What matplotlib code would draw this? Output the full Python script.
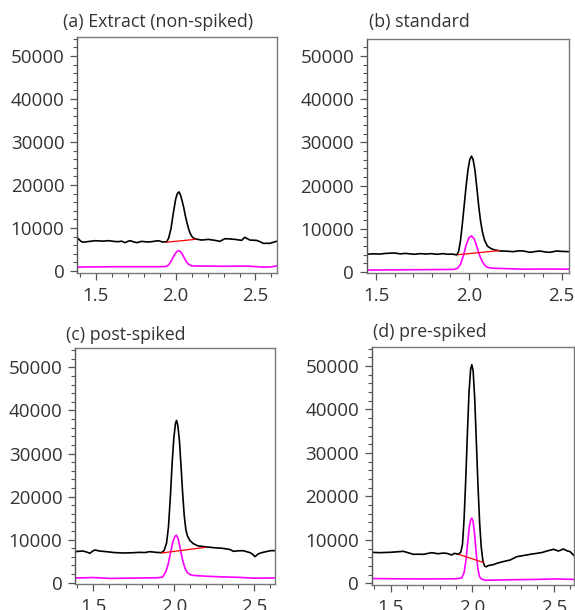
import matplotlib
matplotlib.use("Agg")
import matplotlib.pyplot as plt
from matplotlib.ticker import MultipleLocator

plt.rcParams['font.family'] = ['Open Sans', 'DejaVu Sans']

# ---------------- data (retention time in min, intensity) ----------------
titles = ["(a) Extract (non-spiked)", "(b) standard", "(c) post-spiked", "(d) pre-spiked"]

# (a)
a_black_x = [1.38, 1.39, 1.405, 1.422, 1.45, 1.496, 1.54, 1.58, 1.61, 1.641, 1.66, 1.683, 1.70, 1.714,
             1.735, 1.756, 1.787, 1.82, 1.85, 1.87, 1.892, 1.917, 1.943, 1.955, 1.97, 1.985, 2.0, 2.01,
             2.02, 2.03, 2.04, 2.05, 2.06, 2.07, 2.08, 2.09, 2.10, 2.11, 2.125, 2.163, 2.19, 2.204,
             2.246, 2.277, 2.308, 2.34, 2.371, 2.413, 2.433, 2.45, 2.465, 2.506, 2.53, 2.548, 2.59, 2.631]
a_black_y = [7800, 7500, 6900, 6700, 6850, 7050, 6950, 7050, 6900, 6820, 6950, 6590, 6900, 7050,
             6800, 6590, 6900, 6750, 6820, 6950, 7050, 6750, 6800, 7600, 9800, 13500, 16800, 18000,
             18400, 17700, 16300, 14800, 12900, 11300, 9900, 8800, 8100, 7700, 7450, 7200, 7300, 7360,
             7130, 6900, 7520, 7450, 7360, 7130, 7840, 7500, 7200, 7130, 6800, 6440, 6440, 6900]
a_mag_x = [1.38, 1.45, 1.5, 1.6, 1.7, 1.8, 1.9, 1.94, 1.955, 1.97, 1.985, 2.0, 2.01, 2.02, 2.03,
           2.04, 2.05, 2.06, 2.07, 2.08, 2.1, 2.15, 2.2, 2.3, 2.45, 2.55, 2.6, 2.631]
a_mag_y = [900, 950, 950, 1000, 1000, 1000, 1000, 1050, 1400, 2200, 3300, 4200, 4600, 4750, 4500,
           4000, 3300, 2600, 2000, 1600, 1200, 1150, 1150, 1100, 1150, 900, 950, 1200]
a_red_x = [1.943, 2.121]
a_red_y = [6700, 7360]

# (b)
b_black_x = [1.448, 1.48, 1.52, 1.55, 1.598, 1.63, 1.66, 1.705, 1.74, 1.77, 1.795, 1.83, 1.86, 1.885,
             1.91, 1.935, 1.945, 1.955, 1.965, 1.975, 1.985, 1.995, 2.005, 2.014, 2.023, 2.033, 2.043,
             2.053, 2.063, 2.073, 2.085, 2.10, 2.12, 2.14, 2.172, 2.21, 2.24, 2.27, 2.294, 2.33, 2.36,
             2.383, 2.41, 2.437, 2.473, 2.51, 2.54]
b_black_y = [4100, 4200, 4150, 4300, 4400, 4200, 4300, 4100, 4250, 4150, 4250, 4100, 4250, 4100,
             4150, 3950, 4800, 7300, 11200, 15500, 19800, 23600, 26000, 26800, 26000, 23500, 19500,
             15300, 11800, 9300, 7300, 6000, 5400, 5100, 4860, 4800, 4710, 4900, 4860, 4550, 4750,
             4860, 4650, 4550, 4860, 4750, 4710]
b_mag_x = [1.448, 1.6, 1.8, 1.92, 1.94, 1.955, 1.97, 1.985, 2.0, 2.014, 2.028, 2.04, 2.055, 2.07,
           2.085, 2.1, 2.12, 2.15, 2.3, 2.4, 2.54]
b_mag_y = [450, 500, 550, 600, 900, 1800, 3700, 6200, 7900, 8350, 7700, 6300, 4200, 2600,
           1600, 1100, 900, 850, 650, 700, 650]
b_red_x = [1.944, 2.163]
b_red_y = [4020, 4940]

# (c)
c_black_x = [1.388, 1.41, 1.436, 1.46, 1.478, 1.495, 1.509, 1.54, 1.581, 1.63, 1.685, 1.74, 1.789,
             1.82, 1.851, 1.89, 1.924, 1.94, 1.955, 1.967, 1.98, 1.99, 2.0, 2.01, 2.017, 2.025, 2.035,
             2.045, 2.055, 2.065, 2.075, 2.085, 2.10, 2.12, 2.15, 2.204, 2.266, 2.3, 2.328, 2.35, 2.37,
             2.40, 2.43, 2.474, 2.49, 2.505, 2.525, 2.547, 2.6, 2.63]
c_black_y = [7210, 7300, 7360, 7100, 6830, 7300, 7600, 7350, 7210, 7000, 6900, 6950, 7050,
             7000, 7210, 7050, 6980, 7500, 9200, 13000, 20800, 28000, 33500, 36900, 37700, 36500, 33000,
             27000, 20800, 15500, 12300, 10800, 9800, 9100, 8550, 8300, 8070, 8000, 7840, 7700, 7290,
             7400, 7440, 6980, 6600, 6050, 6700, 6980, 7440, 7440]
c_mag_x = [1.388, 1.45, 1.5, 1.6, 1.7, 1.8, 1.9, 1.93, 1.95, 1.965, 1.98, 1.995, 2.007, 2.017,
           2.027, 2.04, 2.055, 2.07, 2.085, 2.1, 2.12, 2.2, 2.3, 2.4, 2.5, 2.63]
c_mag_y = [1100, 1150, 1200, 1000, 1050, 1100, 1150, 1300, 2500, 4300, 7000, 9600, 10800, 11000,
           10200, 8000, 5200, 3300, 2300, 1900, 1700, 1500, 1350, 1250, 1050, 1100]
c_red_x = [1.924, 2.194]
c_red_y = [6900, 8200]

# (d)
d_black_x = [1.383, 1.43, 1.495, 1.54, 1.577, 1.61, 1.638, 1.67, 1.70, 1.751, 1.79, 1.82, 1.843,
             1.874, 1.89, 1.915, 1.93, 1.94, 1.95, 1.96, 1.97, 1.98, 1.99, 1.997, 2.005, 2.015, 2.025,
             2.035, 2.045, 2.055, 2.065, 2.075, 2.085, 2.1, 2.13, 2.15, 2.19, 2.232, 2.273, 2.3, 2.334,
             2.36, 2.396, 2.43, 2.457, 2.498, 2.529, 2.559, 2.58, 2.6, 2.625]
d_black_y = [7130, 7050, 7130, 7250, 7360, 7000, 6670, 6700, 6670, 7050, 6800, 6950, 6900,
             6520, 6900, 6670, 7200, 9000, 15000, 24000, 34500, 44000, 49300, 50300, 49000, 42500, 32500,
             22500, 14000, 8300, 5200, 4000, 3800, 4100, 4300, 4600, 5000, 5360, 6130, 6300, 6520,
             6700, 6900, 7100, 7430, 7820, 7430, 7900, 7500, 7280, 6360]
d_mag_x = [1.383, 1.5, 1.7, 1.9, 1.935, 1.95, 1.962, 1.972, 1.982, 1.99, 1.997, 2.005, 2.015,
           2.025, 2.035, 2.045, 2.055, 2.08, 2.2, 2.4, 2.5, 2.625]
d_mag_y = [1100, 1050, 1000, 1050, 1200, 2500, 5500, 9500, 13000, 14600, 15000, 14200, 11000,
           6500, 3200, 1500, 1000, 700, 800, 900, 1000, 900]
d_red_x = [1.921, 2.068]
d_red_y = [6600, 4800]

# ---------------- layout ----------------
W, H = 575, 610
fig = plt.figure(figsize=(W / 100, H / 100), dpi=100)

# pixel boxes: left, top, right, bottom
boxes = [(77, 37, 277, 273), (366.5, 39, 569, 273), (75, 348, 275.5, 584), (371.7, 346.7, 574, 585)]
xlims = [(1.381, 2.635), (1.448, 2.54), (1.386, 2.632), (1.383, 2.624)]
ylims = [(-460, 54420), (-230, 53900), (-300, 54500), (-390, 54450)]
title_pos = [(63, 22), (369, 22), (66, 335), (373, 332)]

series = [
    (a_black_x, a_black_y, a_mag_x, a_mag_y, a_red_x, a_red_y),
    (b_black_x, b_black_y, b_mag_x, b_mag_y, b_red_x, b_red_y),
    (c_black_x, c_black_y, c_mag_x, c_mag_y, c_red_x, c_red_y),
    (d_black_x, d_black_y, d_mag_x, d_mag_y, d_red_x, d_red_y),
]

tick_col = '#333333'
for i in range(4):
    l, t, r, b = boxes[i]
    ax = fig.add_axes([l / W, 1 - b / H, (r - l) / W, (b - t) / H])
    bx, by, mx, my, rx, ry = series[i]
    ax.plot(mx, my, color='#ff00ff', lw=1.2, solid_joinstyle='round')
    ax.plot(bx, by, color='black', lw=1.2, solid_joinstyle='round')
    ax.plot(rx, ry, color='#ff0000', lw=0.9)
    ax.set_xlim(*xlims[i])
    ax.set_ylim(*ylims[i])
    ax.xaxis.set_major_locator(MultipleLocator(0.5))
    ax.xaxis.set_minor_locator(MultipleLocator(0.1))
    ax.yaxis.set_major_locator(MultipleLocator(10000))
    ax.yaxis.set_minor_locator(MultipleLocator(2000))
    ax.xaxis.set_major_formatter(matplotlib.ticker.FormatStrFormatter('%.1f'))
    for side, sp in ax.spines.items():
        sp.set_color('#777777')
        sp.set_linewidth(1.0)
    ax.spines['left'].set_color('#555555')
    ax.tick_params(axis='both', which='major', direction='out', length=5, width=0.9,
                   color='#555555', labelcolor=tick_col, labelsize=13.5)
    ax.tick_params(axis='both', which='minor', direction='out', length=3, width=0.8,
                   color='#555555')
    ax.tick_params(axis='x', which='major', pad=5)
    ax.tick_params(axis='y', which='major', pad=4)
    fig.text(title_pos[i][0] / W, 1 - title_pos[i][1] / H, titles[i], ha='left', va='center',
             fontsize=12.8, color=tick_col)

fig.savefig('out.png', dpi=100)
